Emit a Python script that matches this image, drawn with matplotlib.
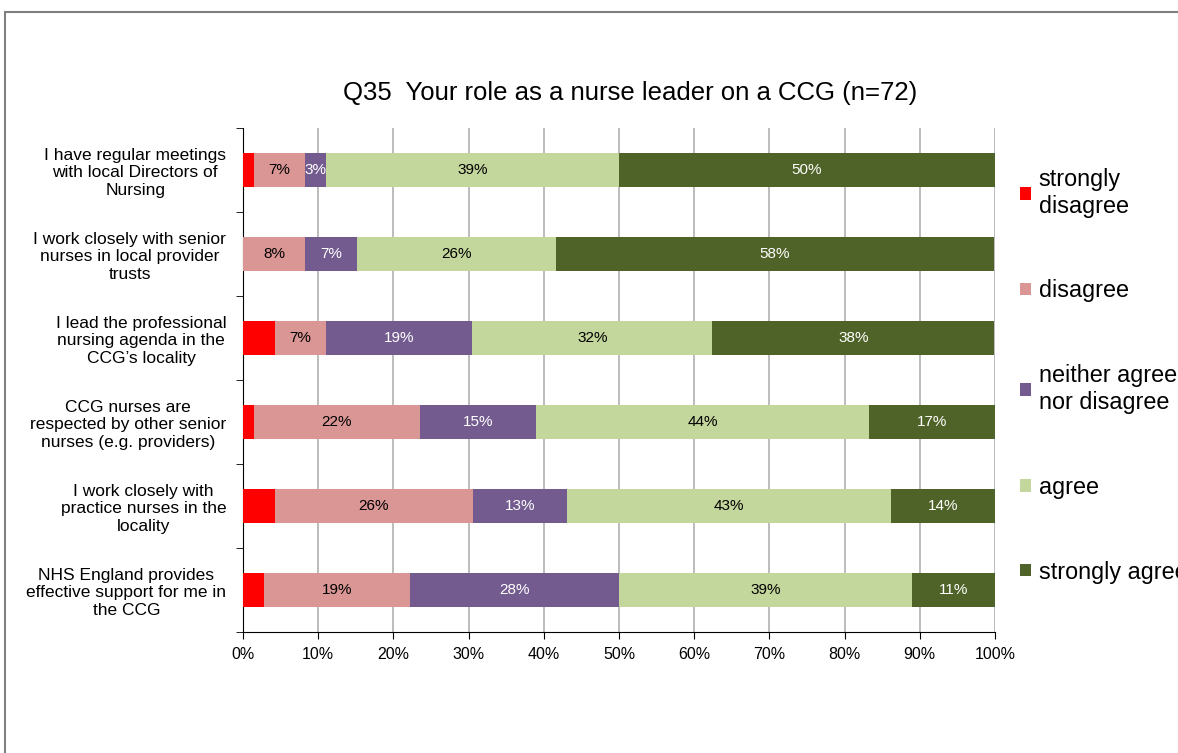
import matplotlib.pyplot as plt
import numpy as np
from matplotlib.patches import Rectangle

plt.rcParams['font.family'] = ['Liberation Sans', 'DejaVu Sans']

## Data (percent of n=72)
statements = [
    'I have regular meetings\nwith local Directors of\nNursing',
    'I work closely with senior\nnurses in local provider\ntrusts',
    'I lead the professional\nnursing agenda in the\nCCG\u2019s locality',
    'CCG nurses are\nrespected by other senior\nnurses (e.g. providers)',
    'I work closely with\npractice nurses in the\nlocality',
    'NHS England provides\neffective support for me in\nthe CCG',
]
responses = ['strongly\ndisagree', 'disagree', 'neither agree\nnor disagree', 'agree', 'strongly agree']
strongly_disagree = [1.4, 0.0, 4.2, 1.4, 4.2, 2.8]
disagree = [6.9, 8.3, 6.9, 22.2, 26.4, 19.4]
neither = [2.8, 6.9, 19.4, 15.3, 12.5, 27.8]
agree = [38.9, 26.4, 31.9, 44.4, 43.1, 38.9]
strongly_agree = [50.0, 58.3, 37.5, 16.7, 13.9, 11.1]

colors = ['#FF0000', '#D99694', '#735B90', '#C3D69B', '#4F6228']
label_colors = [None, 'black', 'white', 'black', 'white']

fig = plt.figure(figsize=(11.78, 7.53), dpi=100)
ax = fig.add_axes([243/1178, 1-632/753, (995-243)/1178, (632-128)/753])

# outer chart border (cropped at right/bottom)
fig.patches.append(Rectangle((5/1178, -0.1), 1.2, 1.1 - 12/753, transform=fig.transFigure,
                             fill=False, edgecolor='#7f7f7f', linewidth=1.5))

y = np.arange(len(statements))
left = np.zeros(len(statements))
series = [strongly_disagree, disagree, neither, agree, strongly_agree]
for vals, name, col, lc in zip(series, responses, colors, label_colors):
    vals = np.array(vals)
    bars = ax.barh(y, vals, left=left, height=0.4, color=col, label=name, zorder=3)
    if lc is not None:
        for b, v in zip(bars, vals):
            if v > 0:
                ax.text(b.get_x() + b.get_width()/2, b.get_y() + b.get_height()/2,
                        f'{int(v + 0.5)}%', ha='center', va='center', color=lc,
                        fontsize=11, zorder=4)
    left += vals

ax.set_xlim(0, 100)
ax.set_ylim(len(statements) - 0.5, -0.5)
ax.set_xticks(np.arange(0, 101, 10))
ax.set_xticklabels([f'{t}%' for t in range(0, 101, 10)], fontsize=11.5)
ax.set_yticks(y)
ax.set_yticklabels(statements, fontsize=12.5, linespacing=1.2, multialignment='center')
ax.set_yticks(np.arange(-0.5, len(statements), 1), minor=True)
ax.tick_params(axis='y', which='major', length=0, pad=12)
ax.tick_params(axis='y', which='minor', length=5, direction='out')
ax.tick_params(axis='x', length=5, direction='out', pad=6)
ax.grid(axis='x', color='#b0b0b0', linewidth=1.2, zorder=0)
ax.spines['top'].set_visible(False)
ax.spines['right'].set_visible(False)

ax.set_title('Q35  Your role as a nurse leader on a CCG (n=72)', fontsize=18.5, pad=20, x=0.515)

fig.legend(loc='upper left', bbox_to_anchor=(1020/1178, 1 - 168/753), frameon=False,
           fontsize=16.8, handlelength=0.45, handleheight=0.45, handletextpad=0.35,
           labelspacing=2.65, borderaxespad=0, borderpad=0)

plt.savefig('out.png', dpi=100)
